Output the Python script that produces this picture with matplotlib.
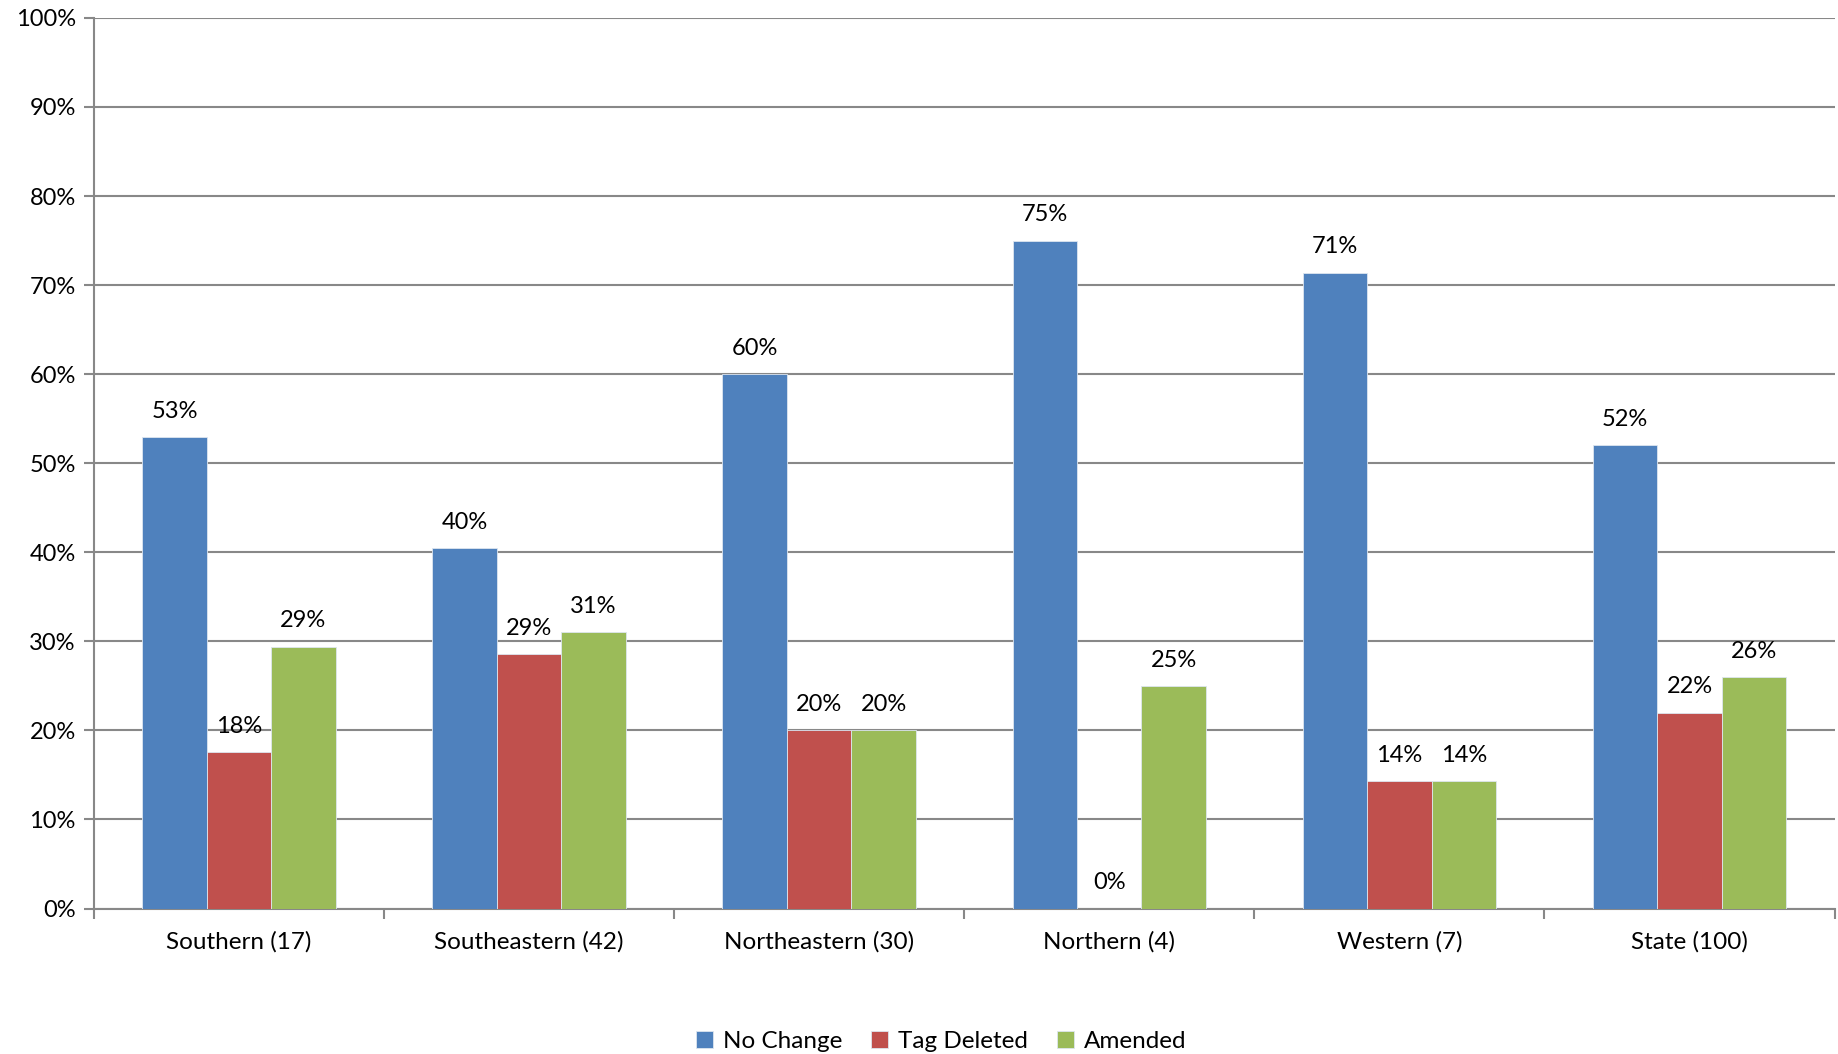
import numpy as np
import matplotlib.pyplot as plt
from matplotlib.ticker import FuncFormatter

plt.rcParams['font.family'] = ['Lato', 'DejaVu Sans']

regions = ['Southern (17)', 'Southeastern (42)', 'Northeastern (30)',
           'Northern (4)', 'Western (7)', 'State (100)']
no_change = [52.9, 40.5, 60.0, 75.0, 71.4, 52.0]
tag_deleted = [17.6, 28.6, 20.0, 0.0, 14.3, 22.0]
amended = [29.4, 31.0, 20.0, 25.0, 14.3, 26.0]

series = [('No Change', no_change, '#4F81BD'),
          ('Tag Deleted', tag_deleted, '#C0504D'),
          ('Amended', amended, '#9BBB59')]

fig = plt.figure(figsize=(18.38, 10.54), dpi=100)
ax = fig.add_axes([0.0511, 0.138, 0.947, 0.845])

x = np.arange(len(regions))
w = 1 / 4.5
for i, (name, vals, col) in enumerate(series):
    pos = x + (i - 1) * w
    bars = ax.bar(pos, vals, width=w, color=col, edgecolor='#dde6f0',
                  linewidth=0.6, label=name, zorder=3)
    for b, v in zip(bars, vals):
        ax.annotate(f'{v:.0f}%', (b.get_x() + b.get_width() / 2, v),
                    xytext=(0, 11), textcoords='offset points',
                    ha='center', va='bottom', fontsize=17)

ax.set_xlim(-0.5, len(regions) - 0.5)
ax.set_ylim(0, 100)
ax.set_yticks(range(0, 101, 10))
ax.yaxis.set_major_formatter(FuncFormatter(lambda v, p: f'{v:.0f}%'))
ax.set_xticks(x)
ax.set_xticklabels(regions)
ax.set_xticks(np.arange(-0.5, len(regions), 1), minor=True)
ax.tick_params(axis='x', which='major', length=0, labelsize=17.5, pad=16)
ax.tick_params(axis='x', which='minor', length=7, width=1.5, color='#888888')
ax.tick_params(axis='y', length=7, width=1.5, color='#888888', labelsize=17, pad=6)
ax.grid(axis='y', color='#888888', linewidth=1.5, zorder=0)
for s in ['top', 'right']:
    ax.spines[s].set_visible(False)
for s in ['left', 'bottom']:
    ax.spines[s].set_color('#888888')
    ax.spines[s].set_linewidth(1.5)

fig.legend(loc='lower center', bbox_to_anchor=(0.512, -0.019), ncol=3, frameon=False,
           fontsize=17.5, handlelength=0.7, handleheight=0.7, handletextpad=0.4,
           columnspacing=1.2)

fig.savefig('out.png', dpi=100)
